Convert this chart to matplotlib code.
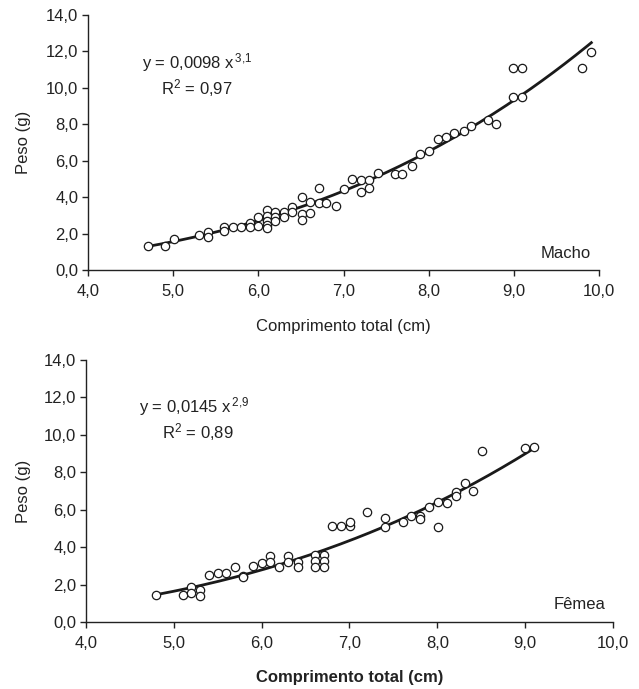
import matplotlib
matplotlib.use("Agg")
import matplotlib.pyplot as plt
import numpy as np

plt.rcParams['font.family'] = ['Liberation Sans', 'DejaVu Sans']
plt.rcParams['mathtext.fontset'] = 'custom'
plt.rcParams['mathtext.rm'] = 'Liberation Sans'
plt.rcParams['mathtext.it'] = 'Liberation Sans'
plt.rcParams['mathtext.bf'] = 'Liberation Sans:bold'

# ---- data: Macho (top) ----
macho_x = [4.70, 4.90, 5.01, 5.30, 5.41, 5.41, 5.60, 5.60, 5.70, 5.80, 5.90, 5.90,
           6.00, 6.00, 6.10, 6.10, 6.10, 6.10, 6.10, 6.20, 6.20, 6.20, 6.30, 6.30,
           6.40, 6.40, 6.51, 6.51, 6.51, 6.61, 6.61, 6.71, 6.71, 6.80, 6.91, 7.01,
           7.10, 7.20, 7.20, 7.30, 7.30, 7.40, 7.60, 7.69, 7.81, 7.90, 8.00, 8.11,
           8.20, 8.30, 8.41, 8.50, 8.70, 8.79, 8.99, 9.10, 8.99, 9.10, 9.80, 9.91]
macho_y = [1.32, 1.32, 1.68, 1.90, 2.09, 1.80, 2.34, 2.16, 2.38, 2.38, 2.60, 2.38,
           2.93, 2.42, 3.29, 2.97, 2.71, 2.47, 2.29, 3.20, 2.93, 2.71, 3.20, 2.93,
           3.44, 3.20, 3.99, 3.08, 2.75, 3.75, 3.15, 4.52, 3.66, 3.70, 3.51, 4.43,
           4.98, 4.94, 4.30, 4.94, 4.52, 5.31, 5.25, 5.25, 5.73, 6.37, 6.55, 7.21,
           7.29, 7.51, 7.65, 7.91, 8.24, 8.02, 11.11, 11.11, 9.52, 9.52, 11.11, 11.97]
macho_curve = (0.0117, 3.04)   # fitted line as drawn
macho_eq = ("y = 0,0098 x", "3{,}1", "0,97")

# ---- data: Fêmea (bottom) ----
femea_x = [4.80, 5.10, 5.20, 5.20, 5.30, 5.30, 5.40, 5.50, 5.59, 5.70, 5.79, 5.79,
           5.90, 6.00, 6.10, 6.10, 6.20, 6.30, 6.30, 6.41, 6.41, 6.61, 6.61, 6.61,
           6.71, 6.71, 6.71, 6.80, 6.90, 7.01, 7.01, 7.20, 7.40, 7.40, 7.61, 7.70,
           7.80, 7.80, 7.91, 8.01, 8.01, 8.11, 8.21, 8.21, 8.31, 8.41, 8.51, 9.00, 9.10]
femea_y = [1.43, 1.43, 1.89, 1.53, 1.71, 1.39, 2.50, 2.64, 2.64, 2.92, 2.47, 2.40,
           2.99, 3.17, 3.53, 3.22, 2.92, 3.53, 3.22, 3.22, 2.92, 3.58, 3.26, 2.92,
           3.58, 3.26, 2.92, 5.13, 5.13, 5.13, 5.36, 5.86, 5.58, 5.06, 5.33, 5.67,
           5.67, 5.50, 6.16, 6.40, 5.06, 6.38, 6.97, 6.75, 7.45, 7.02, 9.14, 9.28, 9.34]
femea_curve = (0.0157, 2.89)
femea_eq = ("y = 0,0145 x", "2{,}9", "0,89")

x_ticks = [4, 5, 6, 7, 8, 9, 10]
x_labels = ["4,0", "5,0", "6,0", "7,0", "8,0", "9,0", "10,0"]
y_ticks = [0, 2, 4, 6, 8, 10, 12, 14]
y_labels = ["0,0", "2,0", "4,0", "6,0", "8,0", "10,0", "12,0", "14,0"]

W, H = 639, 689
fig = plt.figure(figsize=(W / 100, H / 100), dpi=100)

def px_axes(l, r, t, b):
    return fig.add_axes([l / W, 1 - b / H, (r - l) / W, (b - t) / H])

ax1 = px_axes(88, 599, 15, 270)
ax2 = px_axes(86, 613, 360, 622)

tc = '#222222'
FS = 12

def style(ax, xlabel, bold, xlab_y, ylab_x):
    ax.set_xlim(4, 10)
    ax.set_ylim(0, 14)
    ax.set_xticks(x_ticks)
    ax.set_xticklabels(x_labels)
    ax.set_yticks(y_ticks)
    ax.set_yticklabels(y_labels)
    for s in ['top', 'right']:
        ax.spines[s].set_visible(False)
    for s in ['left', 'bottom']:
        ax.spines[s].set_linewidth(1.0)
        ax.spines[s].set_color('#222222')
    ax.tick_params(direction='out', length=4, width=1.0, colors='#222222',
                   labelsize=FS, labelcolor=tc)
    ax.tick_params(axis='x', pad=6)
    ax.tick_params(axis='y', pad=3)
    ax.set_ylabel("Peso (g)", fontsize=FS, color=tc)
    ax.set_xlabel(xlabel, fontsize=FS, color=tc,
                  fontweight='bold' if bold else 'normal')
    ax.xaxis.set_label_coords(0.5, xlab_y)
    ax.yaxis.set_label_coords(ylab_x, 0.5)

def draw(ax, xs, ys, curve, eq, name, eqpos, r2pos):
    a, b = curve
    xx = np.linspace(min(xs), max(xs), 200)
    ax.plot(xx, a * xx ** b, color='#1a1a1a', lw=2.0, zorder=2)
    ax.plot(xs, ys, 'o', mfc='white', mec='#1a1a1a', mew=0.9, ms=6.0,
            linestyle='none', zorder=3)
    ax.text(eqpos[0], eqpos[1], r"%s$^{\,%s}$" % (eq[0], eq[1]), fontsize=FS,
            color=tc, ha='left', va='center')
    ax.text(r2pos[0], r2pos[1], r"R$^{2}$ = %s" % eq[2], fontsize=FS,
            color=tc, ha='center', va='center')
    ax.text(0.985, 0.065, name, transform=ax.transAxes, fontsize=FS,
            color=tc, ha='right', va='center')

style(ax1, "Comprimento total (cm)", False, (270 - 319) / 255, (31 - 88) / 511)
style(ax2, "Comprimento total (cm)", True, (622 - 670) / 262, (31 - 86) / 527)
draw(ax1, macho_x, macho_y, macho_curve, macho_eq, "Macho", (4.63, 11.37), (5.28, 10.0))
draw(ax2, femea_x, femea_y, femea_curve, femea_eq, "Fêmea", (4.60, 11.5), (5.27, 10.17))

fig.savefig("out.png", dpi=100)
